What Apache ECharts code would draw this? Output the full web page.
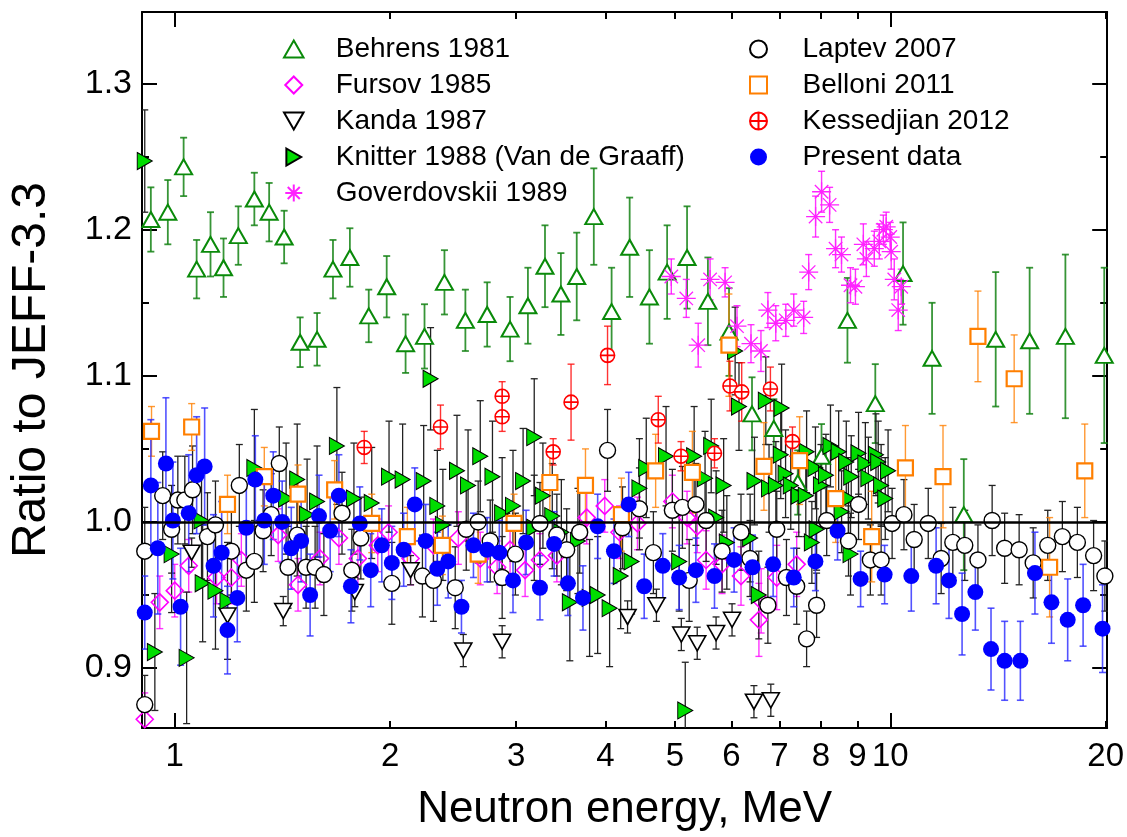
<!DOCTYPE html>
<html>
<head>
<meta charset="utf-8">
<title>Ratio to JEFF-3.3</title>
<script src="https://cdn.jsdelivr.net/npm/echarts@6.0.0/dist/echarts.min.js"></script>
<style>
  html, body { margin: 0; padding: 0; background: #ffffff; }
  #chart { width: 1127px; height: 837px; }
</style>
</head>
<body>
<div id="chart"></div>
<script>
// ---- axis settings -------------------------------------------------------
const energyRange = [0.9, 20.1];          // MeV
const ratioRange = [0.859, 1.349];
const energyLabels = [1, 2, 3, 4, 5, 6, 7, 8, 9, 10, 20];
const energyMajorTicks = [1, 10];
const energyMinorTicks = [2, 3, 4, 5, 6, 7, 8, 9, 20];
const ratioLabels = [0.9, 1.0, 1.1, 1.2, 1.3];
const ratioMinorTicks = [0.95, 1.05, 1.15, 1.25];
const referenceRatio = 1.0;

// ---- measurements: [energy (MeV), ratio to JEFF-3.3, uncertainty] ----------
const behrens1981 = [
  [0.926, 1.207, 0.022], [0.978, 1.212, 0.022], [1.029, 1.243, 0.020], [1.073, 1.173, 0.020],
  [1.122, 1.190, 0.022], [1.170, 1.174, 0.020], [1.227, 1.196, 0.020], [1.292, 1.221, 0.018],
  [1.355, 1.212, 0.020], [1.422, 1.195, 0.018], [1.497, 1.123, 0.017], [1.581, 1.125, 0.018],
  [1.664, 1.173, 0.020], [1.757, 1.181, 0.020], [1.867, 1.141, 0.018], [1.978, 1.161, 0.021],
  [2.102, 1.122, 0.020], [2.234, 1.127, 0.022], [2.382, 1.164, 0.022], [2.548, 1.138, 0.021],
  [2.733, 1.142, 0.022], [2.942, 1.132, 0.022], [3.116, 1.148, 0.026], [3.292, 1.175, 0.028],
  [3.465, 1.156, 0.028], [3.646, 1.168, 0.030], [3.852, 1.209, 0.033], [4.079, 1.144, 0.030],
  [4.323, 1.188, 0.034], [4.607, 1.154, 0.032], [4.877, 1.171, 0.032], [5.200, 1.181, 0.035],
  [5.561, 1.151, 0.030], [5.952, 1.130, 0.030], [6.409, 1.074, 0.025], [6.875, 1.064, 0.020],
  [7.425, 1.027, 0.022], [8.015, 1.045, 0.022], [8.713, 1.138, 0.029], [9.530, 1.081, 0.027],
  [10.42, 1.170, 0.035], [11.44, 1.112, 0.038], [12.67, 1.005, 0.038], [14.04, 1.125, 0.046],
  [15.66, 1.124, 0.050], [17.57, 1.127, 0.056], [19.91, 1.114, 0.060]
];

const fursov1985 = [
  [0.908, 0.865, 0.018], [0.953, 0.945, 0.018], [1.000, 0.953, 0.018], [1.046, 0.970, 0.018],
  [1.144, 0.962, 0.018], [1.200, 0.962, 0.018], [1.239, 0.974, 0.018], [1.395, 0.991, 0.018],
  [1.487, 0.957, 0.018], [1.596, 0.975, 0.018], [1.696, 0.989, 0.018], [1.803, 0.975, 0.018],
  [1.922, 0.984, 0.018], [1.990, 0.993, 0.018], [2.136, 0.975, 0.018], [2.299, 0.984, 0.018],
  [2.491, 0.989, 0.018], [2.673, 0.975, 0.018], [2.822, 0.969, 0.018], [2.942, 0.981, 0.018],
  [3.088, 0.967, 0.018], [3.239, 0.974, 0.018], [3.420, 0.977, 0.018], [3.765, 1.003, 0.018],
  [3.990, 1.011, 0.018], [4.184, 0.993, 0.018], [4.433, 0.999, 0.018], [4.960, 1.014, 0.018],
  [5.200, 1.003, 0.018], [5.373, 0.997, 0.018], [5.529, 0.974, 0.020], [5.820, 0.971, 0.020],
  [6.186, 0.963, 0.020], [6.553, 0.933, 0.025], [6.600, 0.946, 0.022], [6.940, 0.962, 0.022],
  [7.400, 0.971, 0.022]
];

const kanda1987 = [
  [1.056, 0.979, 0.010], [1.185, 0.936, 0.010], [1.418, 0.939, 0.010], [1.785, 0.952, 0.010],
  [2.136, 0.967, 0.010], [2.531, 0.912, 0.011], [2.868, 0.918, 0.011], [4.294, 0.935, 0.011],
  [4.712, 0.943, 0.011], [5.105, 0.923, 0.011], [5.373, 0.917, 0.011], [5.709, 0.924, 0.011],
  [6.010, 0.933, 0.011], [6.449, 0.877, 0.011], [6.809, 0.878, 0.011]
];

const knitter1988 = [
  [0.908, 1.247, 0.035], [0.938, 0.911, 0.040], [0.990, 0.978, 0.040], [1.039, 0.907, 0.045],
  [1.090, 1.001, 0.040], [1.094, 0.958, 0.040], [1.140, 0.953, 0.040], [1.185, 0.946, 0.040],
  [1.292, 1.037, 0.040], [1.431, 1.016, 0.038], [1.483, 1.029, 0.038], [1.531, 1.005, 0.038],
  [1.581, 1.014, 0.038], [1.685, 1.052, 0.040], [1.780, 1.016, 0.038], [1.885, 1.013, 0.038],
  [1.993, 1.031, 0.038], [2.082, 1.029, 0.038], [2.228, 1.028, 0.038], [2.278, 1.098, 0.035],
  [2.328, 1.011, 0.038], [2.370, 0.998, 0.038], [2.480, 1.035, 0.038], [2.570, 1.025, 0.038],
  [2.673, 1.045, 0.038], [2.780, 1.031, 0.038], [2.868, 1.006, 0.038], [2.970, 1.011, 0.038],
  [3.068, 1.028, 0.036], [3.180, 1.058, 0.040], [3.180, 0.996, 0.036], [3.270, 1.018, 0.036],
  [3.370, 1.004, 0.036], [3.470, 0.993, 0.036], [3.566, 0.945, 0.040], [3.660, 0.987, 0.036],
  [3.800, 0.948, 0.040], [3.900, 0.950, 0.040], [4.053, 0.941, 0.040], [4.200, 0.963, 0.036],
  [4.350, 0.973, 0.036], [4.461, 1.023, 0.034], [4.560, 1.037, 0.034], [4.860, 1.045, 0.034],
  [5.070, 0.973, 0.034], [5.170, 0.871, 0.033], [5.320, 1.045, 0.034], [5.510, 1.030, 0.032],
  [5.620, 1.052, 0.032], [5.710, 1.003, 0.032], [5.850, 1.025, 0.032], [5.910, 0.986, 0.032],
  [6.070, 1.117, 0.030], [6.146, 1.079, 0.030], [6.370, 0.989, 0.030], [6.460, 1.028, 0.030],
  [6.550, 0.950, 0.030], [6.700, 1.083, 0.030], [6.770, 1.023, 0.030], [6.920, 1.025, 0.030],
  [7.030, 1.046, 0.030], [7.050, 1.078, 0.030], [7.140, 1.033, 0.030], [7.260, 1.025, 0.030],
  [7.450, 1.018, 0.028], [7.620, 1.018, 0.028], [7.640, 1.048, 0.028], [7.770, 0.986, 0.028],
  [7.860, 1.037, 0.028], [7.890, 0.995, 0.028], [8.000, 1.025, 0.028], [8.130, 1.032, 0.028],
  [8.250, 1.052, 0.028], [8.470, 1.048, 0.028], [8.550, 1.007, 0.028], [8.680, 1.041, 0.028],
  [8.740, 1.016, 0.028], [8.820, 1.031, 0.028], [8.800, 0.978, 0.028], [9.030, 1.047, 0.028],
  [9.230, 1.040, 0.028], [9.320, 1.030, 0.028], [9.550, 1.046, 0.028], [9.620, 1.041, 0.028],
  [9.710, 1.025, 0.028], [9.840, 1.016, 0.028], [9.930, 1.035, 0.028]
];

const goverdovskii1989 = [
  [4.943, 1.168, 0.012], [5.187, 1.153, 0.013], [5.390, 1.121, 0.015], [5.600, 1.166, 0.014],
  [5.877, 1.164, 0.010], [6.107, 1.134, 0.014], [6.388, 1.122, 0.013], [6.596, 1.117, 0.014],
  [6.745, 1.145, 0.012], [6.918, 1.136, 0.012], [7.145, 1.138, 0.011], [7.330, 1.145, 0.011],
  [7.568, 1.140, 0.011], [7.691, 1.171, 0.012], [7.864, 1.209, 0.014], [8.017, 1.226, 0.014],
  [8.227, 1.217, 0.012], [8.386, 1.187, 0.013], [8.548, 1.183, 0.012], [8.799, 1.162, 0.012],
  [8.940, 1.161, 0.012], [9.170, 1.190, 0.014], [9.260, 1.180, 0.012], [9.500, 1.187, 0.012],
  [9.654, 1.192, 0.012], [9.780, 1.200, 0.010], [9.870, 1.202, 0.010], [10.00, 1.195, 0.010],
  [10.03, 1.185, 0.012], [10.13, 1.166, 0.014], [10.26, 1.145, 0.014], [10.36, 1.161, 0.012]
];

const laptev2007 = [
  [0.908, 0.875, 0.020], [0.908, 0.980, 0.030], [0.962, 1.018, 0.030], [0.990, 0.995, 0.030],
  [1.010, 1.015, 0.030], [1.033, 1.015, 0.030], [1.059, 1.022, 0.030], [1.111, 0.990, 0.030],
  [1.140, 0.998, 0.030], [1.200, 0.980, 0.030], [1.231, 1.025, 0.028], [1.259, 0.967, 0.028],
  [1.292, 0.973, 0.028], [1.329, 0.994, 0.028], [1.364, 1.005, 0.028], [1.400, 1.040, 0.025],
  [1.440, 0.969, 0.028], [1.483, 0.991, 0.028], [1.526, 0.969, 0.028], [1.571, 0.969, 0.028],
  [1.616, 0.964, 0.028], [1.713, 1.006, 0.028], [1.768, 0.967, 0.028], [1.820, 0.989, 0.028],
  [2.011, 0.958, 0.028], [2.219, 0.963, 0.028], [2.299, 0.960, 0.028], [2.466, 0.955, 0.028],
  [2.555, 0.995, 0.028], [2.655, 1.000, 0.028], [2.760, 0.987, 0.028], [2.868, 0.962, 0.028],
  [2.993, 0.978, 0.028], [3.239, 0.999, 0.028], [3.420, 0.991, 0.028], [3.530, 0.981, 0.028],
  [3.681, 0.993, 0.028], [4.026, 1.049, 0.028], [4.225, 0.996, 0.028], [4.461, 1.009, 0.028],
  [4.666, 0.979, 0.028], [4.960, 1.008, 0.028], [5.123, 1.010, 0.028], [5.236, 0.960, 0.028],
  [5.350, 1.012, 0.028], [5.529, 1.001, 0.028], [5.820, 0.980, 0.028], [6.186, 0.993, 0.026],
  [6.368, 0.975, 0.026], [6.745, 0.943, 0.026], [6.940, 0.995, 0.026], [7.160, 0.962, 0.026],
  [7.400, 0.956, 0.026], [7.640, 0.920, 0.019], [7.890, 0.943, 0.022], [8.150, 1.001, 0.024],
  [8.743, 0.987, 0.024], [9.030, 1.012, 0.024], [9.380, 0.974, 0.024], [9.710, 0.974, 0.024],
  [10.06, 0.999, 0.024], [10.45, 1.005, 0.024], [10.80, 0.988, 0.024], [11.30, 0.999, 0.024],
  [11.78, 0.975, 0.024], [12.23, 0.986, 0.024], [12.71, 0.984, 0.024], [13.26, 0.974, 0.024],
  [13.88, 1.001, 0.024], [14.45, 0.982, 0.024], [15.14, 0.981, 0.024], [15.84, 0.972, 0.024],
  [16.60, 0.984, 0.024], [17.40, 0.990, 0.024], [18.26, 0.986, 0.024], [19.24, 0.977, 0.024],
  [19.95, 0.963, 0.024]
];

const belloni2011 = [
  [0.928, 1.062, 0.017], [1.056, 1.065, 0.016], [1.185, 1.012, 0.020], [1.334, 1.031, 0.020],
  [1.487, 1.019, 0.020], [1.673, 1.022, 0.020], [1.885, 0.999, 0.020], [2.114, 0.990, 0.020],
  [2.366, 0.984, 0.020], [2.655, 0.978, 0.020], [2.980, 0.999, 0.020], [3.344, 1.027, 0.022],
  [3.750, 1.025, 0.025], [4.210, 1.005, 0.025], [4.700, 1.035, 0.025], [5.290, 1.034, 0.028],
  [5.950, 1.121, 0.035], [6.660, 1.038, 0.030], [7.470, 1.042, 0.030], [8.390, 1.016, 0.030],
  [9.420, 0.990, 0.031], [10.50, 1.037, 0.029], [11.85, 1.031, 0.035], [13.26, 1.127, 0.031],
  [14.90, 1.098, 0.030], [16.70, 0.969, 0.034], [18.70, 1.035, 0.032]
];

const kessedjian2012 = [
  [1.840, 1.051, 0.011], [2.352, 1.065, 0.015], [2.868, 1.086, 0.010], [2.868, 1.072, 0.010],
  [3.380, 1.048, 0.009], [3.580, 1.082, 0.026], [4.026, 1.114, 0.020], [4.740, 1.070, 0.016],
  [5.100, 1.045, 0.010], [5.680, 1.047, 0.010], [5.970, 1.093, 0.017], [6.200, 1.089, 0.020],
  [6.800, 1.091, 0.015], [7.300, 1.055, 0.010]
];

const presentData = [
  [0.908, 0.938, 0.025], [0.926, 1.025, 0.045], [0.947, 0.982, 0.045], [0.972, 1.040, 0.045],
  [0.994, 1.001, 0.040], [1.019, 0.942, 0.040], [1.046, 1.006, 0.040], [1.073, 1.032, 0.040],
  [1.101, 1.038, 0.040], [1.133, 0.970, 0.035], [1.163, 0.979, 0.035], [1.185, 0.926, 0.030],
  [1.223, 0.948, 0.030], [1.259, 0.996, 0.030], [1.296, 1.029, 0.030], [1.334, 1.001, 0.030],
  [1.373, 1.018, 0.030], [1.413, 1.000, 0.028], [1.455, 0.982, 0.028], [1.502, 0.987, 0.028],
  [1.546, 0.950, 0.028], [1.591, 1.004, 0.028], [1.649, 0.994, 0.028], [1.696, 1.018, 0.028],
  [1.763, 0.956, 0.025], [1.814, 0.999, 0.025], [1.879, 0.967, 0.025], [1.947, 0.984, 0.025],
  [2.011, 0.972, 0.025], [2.089, 0.981, 0.025], [2.165, 1.012, 0.025], [2.242, 0.987, 0.025],
  [2.328, 0.968, 0.025], [2.411, 0.973, 0.025], [2.516, 0.942, 0.018], [2.615, 0.984, 0.022],
  [2.733, 0.981, 0.022], [2.842, 0.979, 0.022], [2.970, 0.960, 0.022], [3.098, 0.986, 0.022],
  [3.239, 0.955, 0.022], [3.390, 0.985, 0.022], [3.544, 0.958, 0.022], [3.720, 0.948, 0.022],
  [3.900, 0.997, 0.022], [4.110, 0.980, 0.022], [4.310, 1.012, 0.022], [4.530, 0.956, 0.022],
  [4.810, 0.970, 0.022], [5.070, 0.962, 0.022], [5.350, 0.967, 0.022], [5.680, 0.963, 0.022],
  [6.050, 0.974, 0.022], [6.420, 0.969, 0.022], [6.860, 0.971, 0.022], [7.330, 0.962, 0.020],
  [7.860, 0.973, 0.020], [8.440, 0.994, 0.020], [9.090, 0.961, 0.019], [9.820, 0.964, 0.020],
  [10.70, 0.963, 0.024], [11.59, 0.970, 0.026], [12.08, 0.960, 0.026], [12.60, 0.937, 0.028],
  [13.15, 0.952, 0.026], [13.83, 0.913, 0.028], [14.45, 0.905, 0.027], [15.20, 0.905, 0.027],
  [15.93, 0.965, 0.028], [16.80, 0.945, 0.028], [17.70, 0.933, 0.028], [18.60, 0.943, 0.028],
  [19.80, 0.927, 0.030]
];

// ---- marker looks ------------------------------------------------------------
const FONT = '"Liberation Sans", Arial, Helvetica, sans-serif';
const SYM_UP = 'path://M5,0L10,8.7L0,8.7Z';
const SYM_DOWN = 'path://M0,0L10,0L5,8.7Z';
const SYM_RIGHT = 'path://M0,0L8.7,5L0,10Z';
const SYM_DIAMOND = 'path://M5,0L10,5L5,10L0,5Z';
const SYM_SQUARE = 'path://M0,0L10,0L10,10L0,10Z';
const SYM_STAR = 'path://M0,-10L0,10M-10,0L10,0M-7.07,-7.07L7.07,7.07M-7.07,7.07L7.07,-7.07';
const SYM_CROSSED = 'path://M0,-10A10,10 0 1,1 0,10A10,10 0 1,1 0,-10ZM-10,0L10,0M0,-10L0,10';

const groups = [
  { name: 'Behrens 1981', data: behrens1981, symbol: SYM_UP, size: [17, 15],
    style: { color: '#ffffff', borderColor: '#0a8a0a', borderWidth: 2 }, bar: 'rgba(20,130,20,0.85)', barWidth: 1.8 },
  { name: 'Fursov 1985', data: fursov1985, symbol: SYM_DIAMOND, size: [17, 17],
    style: { color: 'rgba(255,255,255,0)', borderColor: '#ff00ff', borderWidth: 1.6 }, bar: 'rgba(255,0,255,0.8)', barWidth: 1.4 },
  { name: 'Kanda 1987', data: kanda1987, symbol: SYM_DOWN, size: [17, 15],
    style: { color: '#ffffff', borderColor: '#000000', borderWidth: 1.6 }, bar: '#222222', barWidth: 1.3 },
  { name: 'Knitter 1988 (Van de Graaff)', data: knitter1988, symbol: SYM_RIGHT, size: [15, 17],
    style: { color: '#00dd00', borderColor: '#000000', borderWidth: 1 }, bar: '#222222', barWidth: 1.3 },
  { name: 'Goverdovskii 1989', data: goverdovskii1989, symbol: SYM_STAR, size: [19, 19],
    style: { color: 'rgba(255,0,255,0)', borderColor: '#ff22ff', borderWidth: 1.3 }, bar: 'rgba(255,0,255,0.8)', barWidth: 1.4 },
  { name: 'Laptev 2007', data: laptev2007, symbol: 'circle', size: 16,
    style: { color: '#ffffff', borderColor: '#000000', borderWidth: 1.4 }, bar: '#222222', barWidth: 1.3 },
  { name: 'Belloni 2011', data: belloni2011, symbol: SYM_SQUARE, size: 15,
    style: { color: '#ffffff', borderColor: '#ff7f00', borderWidth: 2.2 }, bar: 'rgba(255,127,0,0.8)', barWidth: 1.4 },
  { name: 'Kessedjian 2012', data: kessedjian2012, symbol: SYM_CROSSED, size: 14,
    style: { color: '#ffffff', borderColor: '#ff0000', borderWidth: 1.6 }, bar: 'rgba(255,0,0,0.8)', barWidth: 1.4 },
  { name: 'Present data', data: presentData, symbol: 'circle', size: 16,
    style: { color: '#0000ff', borderWidth: 0 }, bar: 'rgba(40,40,255,0.8)', barWidth: 1.6 }
];

// vertical uncertainty bar with short end caps
function errorBarSeries(g, index) {
  const cap = 3.5;
  const s = {
    type: 'custom',
    name: g.name + ' (uncertainty)',
    xAxisIndex: 0, yAxisIndex: 0,
    data: g.data.map(d => [d[0], d[1] - d[2], d[1] + d[2]]),
    encode: { x: 0, y: [1, 2] },
    clip: true, silent: true, z: 2,
    renderItem(params, api) {
      const lo = api.coord([api.value(0), api.value(1)]);
      const hi = api.coord([api.value(0), api.value(2)]);
      const st = { stroke: g.bar, lineWidth: g.barWidth };
      return {
        type: 'group',
        children: [
          { type: 'line', shape: { x1: lo[0], y1: lo[1], x2: hi[0], y2: hi[1] }, style: st },
          { type: 'line', shape: { x1: lo[0] - cap, y1: lo[1], x2: lo[0] + cap, y2: lo[1] }, style: st },
          { type: 'line', shape: { x1: hi[0] - cap, y1: hi[1], x2: hi[0] + cap, y2: hi[1] }, style: st }
        ]
      };
    }
  };
  if (index === 0) {
    s.markLine = {
      silent: true, symbol: 'none', animation: false,
      label: { show: false },
      lineStyle: { color: '#000000', width: 2.5, type: 'solid' },
      data: [{ yAxis: referenceRatio }]
    };
  }
  return s;
}

function markerSeries(g) {
  return {
    type: 'scatter',
    name: g.name,
    xAxisIndex: 0, yAxisIndex: 0,
    data: g.data.map(d => [d[0], d[1]]),
    symbol: g.symbol,
    symbolSize: g.size,
    itemStyle: Object.assign({ opacity: 1 }, g.style),
    emphasis: { disabled: true },
    silent: true, z: 3
  };
}

const axisLineStyle = { show: true, lineStyle: { color: '#000000', width: 2 } };
const noLine = { show: false };

function energyAxis(position, tickValues, tickLength, withLabels, withLine) {
  return {
    type: 'log', logBase: 10, position,
    min: energyRange[0], max: energyRange[1],
    axisLine: withLine ? axisLineStyle : noLine,
    axisTick: { show: true, inside: true, length: tickLength, customValues: tickValues,
                lineStyle: { color: '#000000', width: 2 } },
    axisLabel: withLabels ? {
      show: true, customValues: energyLabels, margin: 12,
      fontSize: 33, fontFamily: FONT, color: '#000000',
      formatter: v => String(Math.round(v))
    } : { show: false },
    splitLine: { show: false },
    minorTick: { show: false },
    name: withLabels ? 'Neutron energy, MeV' : '',
    nameLocation: 'middle', nameGap: 60,
    nameTextStyle: { fontSize: 44, fontFamily: FONT, color: '#000000' }
  };
}

function ratioAxis(position, tickValues, tickLength, withLabels, withLine) {
  return {
    type: 'value', position,
    min: ratioRange[0], max: ratioRange[1],
    axisLine: withLine ? axisLineStyle : noLine,
    axisTick: { show: true, inside: true, length: tickLength, customValues: tickValues,
                lineStyle: { color: '#000000', width: 2 } },
    axisLabel: withLabels ? {
      show: true, customValues: ratioLabels, margin: 10,
      fontSize: 34, fontFamily: FONT, color: '#000000',
      formatter: v => v.toFixed(1)
    } : { show: false },
    splitLine: { show: false },
    name: withLabels ? 'Ratio to JEFF-3.3' : '',
    nameLocation: 'middle', nameGap: 86, nameRotate: 90,
    nameTextStyle: { fontSize: 48, fontFamily: FONT, color: '#000000' }
  };
}

const legendText = { fontSize: 28, fontFamily: FONT, color: '#000000', lineHeight: 28 };

const option = {
  backgroundColor: '#ffffff',
  animation: false,
  grid: { left: 140, right: 17, top: 12, bottom: 106, containLabel: false },
  xAxis: [
    energyAxis('bottom', energyMinorTicks, 7, true, true),
    energyAxis('bottom', energyMajorTicks, 15, false, false),
    energyAxis('top', energyMinorTicks, 7, false, true),
    energyAxis('top', energyMajorTicks, 15, false, false)
  ],
  yAxis: [
    ratioAxis('left', ratioLabels, 15, true, true),
    ratioAxis('left', ratioMinorTicks, 7, false, false),
    ratioAxis('right', ratioLabels, 15, false, true),
    ratioAxis('right', ratioMinorTicks, 7, false, false)
  ],
  legend: [
    {
      data: groups.slice(0, 5).map(g => g.name),
      orient: 'vertical', left: 278, top: 30,
      itemWidth: 74, itemHeight: 17, itemGap: 8,
      selectedMode: false, textStyle: legendText
    },
    {
      data: groups.slice(5).map(g => g.name),
      orient: 'vertical', left: 744, top: 30,
      itemWidth: 78, itemHeight: 17, itemGap: 8,
      selectedMode: false, textStyle: legendText
    }
  ],
  series: groups.map(errorBarSeries).concat(groups.map(markerSeries))
};

const chart = echarts.init(document.getElementById('chart'), null, { renderer: 'canvas' });
chart.setOption(option);
</script>
</body>
</html>
